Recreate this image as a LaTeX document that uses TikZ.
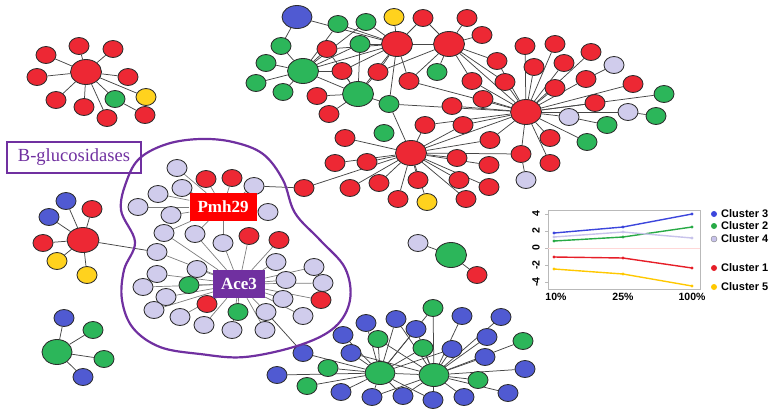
\documentclass[tikz,border=0pt]{standalone}
\usepackage{fontspec}
\setmainfont{Liberation Serif}
\newfontfamily\chartfont{Liberation Sans}
\usetikzlibrary{shapes.geometric,backgrounds}

\definecolor{nred}{RGB}{237,40,52}
\definecolor{ngreen}{RGB}{44,182,90}
\definecolor{nblue}{RGB}{80,90,210}
\definecolor{nyellow}{RGB}{255,210,30}
\definecolor{nlav}{RGB}{208,204,236}
\definecolor{npurple}{RGB}{112,48,160}
\definecolor{nodeline}{RGB}{45,45,45}
\definecolor{edgegray}{RGB}{70,70,70}
\definecolor{softgray}{RGB}{125,125,125}
\definecolor{chartgray}{RGB}{185,185,185}
\definecolor{zeropink}{RGB}{255,215,215}
\definecolor{lblue}{RGB}{60,70,220}
\definecolor{lgreen}{RGB}{40,170,70}
\definecolor{llav}{RGB}{200,195,235}
\definecolor{lred}{RGB}{230,30,40}
\definecolor{lyellow}{RGB}{255,200,0}

\tikzset{
  leaf/.style={ellipse, draw=nodeline, line width=0.85pt, fill=#1, minimum width=20pt, minimum height=17pt, inner sep=0pt},
  hub/.style={leaf=#1, minimum width=31pt, minimum height=25pt},
  link/.style={draw=edgegray, line width=0.75pt},
  softlink/.style={draw=softgray, line width=0.7pt},
  tag/.style={fill=#1, text=white, font=\fontsize{17}{17}\selectfont\bfseries, minimum height=28pt, inner xsep=8pt, inner ysep=0pt},
  curve/.style={line width=1.4pt},
  axislabel/.style={font=\chartfont\fontsize{10.5}{10.5}\selectfont\bfseries, inner sep=0pt},
  legend/.style={font=\chartfont\fontsize{11}{11}\selectfont\bfseries, anchor=west, inner sep=0pt},
}

\begin{document}
\begin{tikzpicture}[x=1pt,y=-1pt]
\useasboundingbox (0,0) rectangle (771,408);

% top left star
\node[hub=nred] (a0) at (86,72) {};
\node[leaf=nred] (a1) at (46,55) {};
\node[leaf=nred] (a2) at (79,46) {};
\node[leaf=nred] (a3) at (113,49) {};
\node[leaf=nred] (a4) at (37,77) {};
\node[leaf=nred] (a5) at (128,77) {};
\node[leaf=nred] (a6) at (56,100) {};
\node[leaf=nred] (a7) at (84,107) {};
\node[leaf=nred] (a8) at (107,118) {};
\node[leaf=ngreen] (a9) at (115,99) {};
\node[leaf=nyellow] (a10) at (146,97) {};
\node[leaf=nred] (a11) at (145,115) {};

% big upper cluster
\node[hub=nblue, minimum width=30pt, minimum height=23pt] (t1) at (297,17) {};
\node[hub=nred] (h1) at (397,44) {};
\node[hub=nred] (h2) at (449,44) {};
\node[hub=ngreen] (g1) at (303,71) {};
\node[hub=ngreen] (g2) at (358,94) {};
\node[hub=nred] (h3) at (526,112) {};
\node[hub=nred] (h4) at (411,153) {};
\node[leaf=ngreen] (t2) at (338,24) {};
\node[leaf=ngreen] (t3) at (366,22) {};
\node[leaf=nyellow] (t4) at (394,17) {};
\node[leaf=nred] (t5) at (423,18) {};
\node[leaf=nred] (t6) at (467,18) {};
\node[leaf=nred] (t7) at (482,35) {};
\node[leaf=ngreen] (t8) at (281,46) {};
\node[leaf=nred] (t9) at (327,49) {};
\node[leaf=ngreen] (t10) at (360,44) {};
\node[leaf=ngreen] (t11) at (266,63) {};
\node[leaf=nred] (t12) at (342,71) {};
\node[leaf=nred] (t13) at (378,72) {};
\node[leaf=ngreen] (t14) at (437,72) {};
\node[leaf=nred] (t15) at (409,81) {};
\node[leaf=nred] (t16) at (497,61) {};
\node[leaf=nred] (t17) at (472,81) {};
\node[leaf=nred] (t18) at (505,82) {};
\node[leaf=ngreen] (t19) at (256,83) {};
\node[leaf=ngreen] (t20) at (283,92) {};
\node[leaf=nred] (t21) at (317,96) {};
\node[leaf=ngreen] (t22) at (389,104) {};
\node[leaf=nred] (t23) at (483,99) {};
\node[leaf=nred] (t24) at (452,106) {};
\node[leaf=nred] (t25) at (329,114) {};
\node[leaf=nred] (t26) at (425,125) {};
\node[leaf=nred] (t27) at (463,125) {};
\node[leaf=ngreen] (t28) at (384,133) {};
\node[leaf=nred] (t29) at (345,138) {};
\node[leaf=nred] (t30) at (490,140) {};
\node[leaf=nred] (t31) at (335,163) {};
\node[leaf=nred] (t32) at (367,162) {};
\node[leaf=nred] (t33) at (457,158) {};
\node[leaf=nred] (t34) at (489,165) {};
\node[leaf=nred] (t35) at (521,154) {};
\node[leaf=nred] (t36) at (304,188) {};
\node[leaf=nred] (t37) at (350,188) {};
\node[leaf=nred] (t38) at (379,183) {};
\node[leaf=nred] (t39) at (418,180) {};
\node[leaf=nred] (t40) at (459,180) {};
\node[leaf=nred] (t41) at (489,187) {};
\node[leaf=nred] (t42) at (398,199) {};
\node[leaf=nyellow] (t43) at (427,202) {};
\node[leaf=nred] (t44) at (466,199) {};
\node[leaf=nlav] (t45) at (526,180) {};
\node[leaf=nred] (t46) at (525,46) {};
\node[leaf=nred] (t47) at (555,44) {};
\node[leaf=nred] (t48) at (591,52) {};
\node[leaf=nred] (t49) at (534,67) {};
\node[leaf=nred] (t50) at (564,63) {};
\node[leaf=nlav] (t51) at (614,65) {};
\node[leaf=nred] (t53) at (586,79) {};
\node[leaf=nred] (t54) at (555,88) {};
\node[leaf=nred] (t55) at (633,84) {};
\node[leaf=ngreen] (t56) at (664,94) {};
\node[leaf=nred] (t57) at (595,103) {};
\node[leaf=nlav] (t58) at (628,112) {};
\node[leaf=ngreen] (t59) at (656,116) {};
\node[leaf=nlav] (t60) at (569,117) {};
\node[leaf=ngreen] (t61) at (607,125) {};
\node[leaf=ngreen] (t62) at (587,142) {};
\node[leaf=nred] (t63) at (550,138) {};
\node[leaf=nred] (t64) at (550,163) {};

% left star
\node[hub=nred, minimum width=32pt] (c0) at (83,240) {};
\node[leaf=nblue] (c1) at (66,201) {};
\node[leaf=nred] (c2) at (92,209) {};
\node[leaf=nblue] (c3) at (49,217) {};
\node[leaf=nred] (c4) at (43,243) {};
\node[leaf=nyellow] (c5) at (57,261) {};
\node[leaf=nyellow] (c6) at (87,275) {};

% bottom left star
\node[hub=ngreen, minimum width=30pt] (e0) at (57,352) {};
\node[leaf=nblue] (e1) at (64,318) {};
\node[leaf=ngreen] (e2) at (93,330) {};
\node[leaf=ngreen] (e3) at (104,359) {};
\node[leaf=nblue] (e4) at (83,377) {};

% small triple
\node[leaf=nlav] (m1) at (418,243) {};
\node[hub=ngreen] (m0) at (451,255) {};
\node[leaf=nred] (m2) at (477,275) {};

% glucosidase cluster
\node[leaf=nlav] (b1) at (177,168) {};
\node[leaf=nred] (b2) at (206,179) {};
\node[leaf=nred] (b3) at (232,178) {};
\node[leaf=nlav] (b4) at (254,186) {};
\node[leaf=nlav] (b5) at (158,194) {};
\node[leaf=nlav] (b6) at (182,188) {};
\node[leaf=nlav] (b7) at (138,207) {};
\node[leaf=nlav] (b8) at (171,215) {};
\node[leaf=nlav] (b9) at (268,212) {};
\node[leaf=nlav] (b10) at (164,233) {};
\node[leaf=nlav] (b11) at (195,234) {};
\node[leaf=nlav] (b12) at (223,243) {};
\node[leaf=nred] (b13) at (249,236) {};
\node[leaf=nred] (b14) at (279,240) {};
\node[leaf=nlav] (b15) at (157,252) {};
\node[leaf=nlav] (b16) at (197,269) {};
\node[leaf=nlav] (b17) at (276,262) {};
\node[leaf=nlav] (b18) at (314,267) {};
\node[leaf=nlav] (b19) at (157,274) {};
\node[leaf=ngreen] (b20) at (189,285) {};
\node[leaf=nlav] (b21) at (286,280) {};
\node[leaf=nlav] (b22) at (323,283) {};
\node[leaf=nlav] (b23) at (143,287) {};
\node[leaf=nlav] (b24) at (166,297) {};
\node[leaf=nlav] (b25) at (283,299) {};
\node[leaf=nred] (b26) at (321,300) {};
\node[leaf=nlav] (b27) at (154,310) {};
\node[leaf=nred] (b28) at (207,304) {};
\node[leaf=ngreen] (b29) at (238,312) {};
\node[leaf=nlav] (b30) at (266,312) {};
\node[leaf=nlav] (b31) at (303,316) {};
\node[leaf=nlav] (b32) at (180,317) {};
\node[leaf=nlav] (b33) at (204,325) {};
\node[leaf=nlav] (b34) at (232,330) {};
\node[leaf=nlav] (b35) at (265,330) {};
\node[tag=red] (pmh) at (223,207) {Pmh29};
\node[tag=npurple] (ace) at (239,284) {Ace3};

% bottom cluster
\node[hub=ngreen, minimum width=30pt, minimum height=23pt] (dh1) at (380,373) {};
\node[hub=ngreen, minimum width=30pt, minimum height=23pt] (dh2) at (434,375) {};
\node[leaf=ngreen] (d1) at (433,308) {};
\node[leaf=nblue] (d2) at (366,323) {};
\node[leaf=nblue] (d3) at (396,319) {};
\node[leaf=nblue] (d4) at (462,316) {};
\node[leaf=nblue] (d5) at (501,317) {};
\node[leaf=nblue] (d6) at (416,329) {};
\node[leaf=nblue] (d7) at (343,335) {};
\node[leaf=ngreen] (d8) at (378,339) {};
\node[leaf=ngreen] (d9) at (423,348) {};
\node[leaf=nblue] (d10) at (452,349) {};
\node[leaf=nblue] (d11) at (487,337) {};
\node[leaf=ngreen] (d12) at (523,341) {};
\node[leaf=nblue] (d13) at (303,353) {};
\node[leaf=nblue] (d14) at (351,353) {};
\node[leaf=nblue] (d15) at (485,357) {};
\node[leaf=ngreen] (d16) at (328,368) {};
\node[leaf=nblue] (d17) at (277,375) {};
\node[leaf=nblue] (d18) at (525,369) {};
\node[leaf=ngreen] (d19) at (478,380) {};
\node[leaf=ngreen] (d20) at (307,386) {};
\node[leaf=nblue] (d21) at (341,392) {};
\node[leaf=nblue] (d22) at (372,397) {};
\node[leaf=nblue] (d23) at (403,396) {};
\node[leaf=nblue] (d24) at (433,400) {};
\node[leaf=nblue] (d25) at (464,397) {};
\node[leaf=nblue] (d26) at (508,393) {};

\begin{pgfonlayer}{background}
  \foreach \i in {1,...,10} \draw[link] (a0) -- (a\i);
  \draw[link] (a9) -- (a11);
  \foreach \n in {t1,t2,t3,t4,t5,t9,t10,t13,t15,t22,t12,h2,g1} \draw[link] (h1) -- (\n);
  \foreach \n in {t5,t6,t7,t14,t15,t16,t17,t18,t13,t10,h3} \draw[link] (h2) -- (\n);
  \foreach \n in {t8,t11,t19,t20,t9,t12,t2,t3,t10,g2} \draw[link] (g1) -- (\n);
  \foreach \n in {t21,t25,t12,t13,t10,t22,t9,h1} \draw[link] (g2) -- (\n);
  \draw[link] (t8) -- (t1);
  \foreach \n in {46,47,48,49,50,18,53,54,55,56,16,17,23,24,57,60,62,63,30,35,64,27,26,22,58,15} \draw[link] (h3) -- (t\n);
  \draw[link] (h3) -- (h4);
  \draw[link] (t51) -- (t53);
  \draw[link] (t59) -- (t58);
  \draw[link] (t61) -- (t60);
  \draw[link] (t45) -- (t35);
  \foreach \n in {22,26,27,29,30,31,32,33,34,35,36,37,38,39,40,41,42,43,44} \draw[link] (h4) -- (t\n);
  \draw[link] (t36) -- (b4);
  \foreach \i in {1,...,6} \draw[link] (c0) -- (c\i);
  \draw[link] (c0) -- (b15);
  \foreach \i in {1,...,4} \draw[link] (e0) -- (e\i);
  \draw[link] (m0) -- (m1);
  \draw[link] (m0) -- (m2);
  \foreach \i in {1,...,12} \draw[softlink] (pmh) -- (b\i);
  \foreach \i in {10,...,35} \draw[softlink] (ace) -- (b\i);
  \draw[link] (b30) -- (d13);
  \foreach \i in {1,2,3,6,7,8,9,10,13,14,16,17,20,21,22,23,24} \draw[link] (dh1) -- (d\i);
  \foreach \i in {1,3,4,5,6,8,9,10,11,12,14,15,18,19,22,23,24,25,26} \draw[link] (dh2) -- (d\i);
  \draw[link] (dh1) -- (dh2);
\end{pgfonlayer}

% outline of the glucosidase group
\draw[npurple, line width=2.2pt] plot[smooth cycle, tension=0.6] coordinates {
  (140,158) (167,144) (200,139) (233,142) (263,154) (283,180) (295,213)
  (320,240) (345,268) (350,300) (335,327) (300,345) (245,357) (200,354)
  (160,347) (133,328) (122,300) (124,270) (135,242) (121,210) (127,180)};
\node[draw=npurple, line width=2pt, text=npurple, font=\fontsize{18.5}{18.5}\selectfont,
  minimum width=134pt, minimum height=31pt, inner sep=0pt] (bgluc) at (74,157.5) {B-glucosidases};

% expression profiles
\draw[chartgray, line width=0.8pt] (548,210) rectangle (700,289);
\draw[zeropink, line width=0.8pt] (548,248) -- (700,248);
\foreach \y/\t in {214/4,231/2,248/0,265/-2,282/-4} {
  \draw[chartgray, line width=0.8pt] (545,\y) -- (548,\y);
  \node[axislabel, rotate=90] (yl\y) at (536,\y) {\t};
}
\node[axislabel] (xl1) at (556,297) {10\%};
\node[axislabel] (xl2) at (623,297) {25\%};
\node[axislabel] (xl3) at (692,297) {100\%};
\draw[curve, lblue] (554,233) -- (623,227) -- (692,214);
\draw[curve, lgreen] (554,241) -- (623,237) -- (692,227);
\draw[curve, llav] (554,237) -- (623,232) -- (692,238);
\draw[curve, lred] (554,257) -- (623,258) -- (692,268);
\draw[curve, lyellow] (554,269) -- (623,274) -- (692,286);
\foreach \x/\y/\c in {554/233/lblue,623/227/lblue,692/214/lblue,554/241/lgreen,623/237/lgreen,692/227/lgreen,
  554/237/llav,623/232/llav,692/238/llav,554/257/lred,623/258/lred,692/268/lred,554/269/lyellow,623/274/lyellow,692/286/lyellow}
  \fill[\c] (\x,\y) circle[radius=1.6];
\foreach \y/\c/\t in {214/lblue/3,226/lgreen/2,239/llav/4,268/lred/1,287/lyellow/5} {
  \fill[\c] (714,\y) circle[radius=3];
  \node[legend] (lg\t) at (721,\y) {Cluster \t};
}
\draw[gray, line width=0.4pt] (714,239) circle[radius=3];
\end{tikzpicture}
\end{document}
